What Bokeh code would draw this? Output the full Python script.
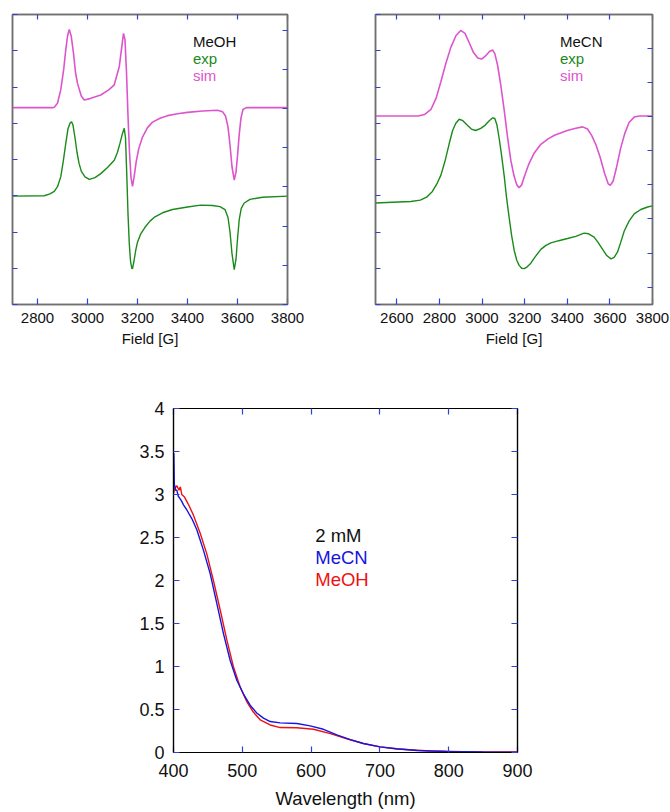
from bokeh.plotting import figure
from bokeh.models import Range1d, LinearAxis, FixedTicker, Label
from bokeh.layouts import column, row
from bokeh.embed import file_html
from bokeh.resources import INLINE

# ---------------- EPR, MeOH ----------------
meoh_sim_field = [2700, 2860, 2867, 2880, 2893, 2905, 2913, 2920, 2927, 2935, 2944, 2952, 2960, 2975, 2987,
                  3010, 3053, 3085, 3107, 3127, 3137, 3144, 3150, 3156, 3162, 3168, 3174, 3180, 3186, 3195,
                  3205, 3220, 3240, 3260, 3290, 3320, 3360, 3400, 3460, 3520, 3540, 3552, 3562, 3570, 3578,
                  3587, 3594, 3600, 3607, 3614, 3622, 3635, 3800]
meoh_sim_int = [5.43, 5.43, 5.44, 5.55, 5.92, 6.5, 7.02, 7.4, 7.59, 7.4, 6.93, 6.4, 6.1, 5.75, 5.64,
                5.68, 5.78, 5.92, 6.06, 6.56, 7.1, 7.48, 7.3, 6.4, 5.2, 4.2, 3.5, 3.26, 3.5, 3.95,
                4.3, 4.62, 4.88, 5.03, 5.14, 5.21, 5.26, 5.3, 5.34, 5.36, 5.32, 5.2, 4.9, 4.4, 3.8,
                3.43, 3.65, 4.1, 4.7, 5.15, 5.38, 5.43, 5.43]

meoh_exp_field = [2700, 2827, 2850, 2867, 2880, 2893, 2903, 2913, 2922, 2930, 2936, 2942, 2950, 2958, 2966,
                  2975, 2990, 3007, 3030, 3053, 3080, 3107, 3120, 3130, 3140, 3147, 3152, 3157, 3162, 3167,
                  3172, 3177, 3180, 3186, 3193, 3200, 3213, 3230, 3250, 3270, 3300, 3340, 3400, 3453, 3500,
                  3530, 3550, 3562, 3570, 3578, 3587, 3594, 3600, 3607, 3615, 3627, 3650, 3700, 3800]
meoh_exp_int = [2.99, 3.0, 3.05, 3.12, 3.25, 3.52, 3.95, 4.44, 4.85, 5.0, 5.04, 4.95, 4.6, 4.2, 3.9,
                3.68, 3.52, 3.45, 3.5, 3.61, 3.78, 3.98, 4.2, 4.45, 4.72, 4.86, 4.6, 3.6, 2.5, 1.7,
                1.2, 1.0, 0.99, 1.2, 1.5, 1.72, 1.95, 2.13, 2.3, 2.42, 2.53, 2.62, 2.69, 2.74, 2.73,
                2.7, 2.62, 2.4, 2.0, 1.4, 0.96, 1.25, 1.8, 2.35, 2.65, 2.8, 2.9, 2.96, 2.99]

# ---------------- EPR, MeCN ----------------
mecn_sim_field = [2500, 2700, 2730, 2760, 2785, 2807, 2830, 2854, 2878, 2900, 2920, 2940, 2960, 2980, 2998,
                  3015, 3035, 3049, 3060, 3073, 3088, 3104, 3120, 3135, 3150, 3163, 3174, 3186, 3200, 3220,
                  3245, 3276, 3310, 3340, 3400, 3440, 3472, 3495, 3515, 3535, 3555, 3575, 3592, 3602, 3615,
                  3630, 3650, 3670, 3690, 3714, 3740, 3800]
mecn_sim_int = [5.2, 5.2, 5.24, 5.38, 5.7, 6.15, 6.65, 7.1, 7.42, 7.56, 7.48, 7.22, 6.95, 6.8, 6.77,
                6.85, 6.98, 7.02, 6.92, 6.6, 6.05, 5.36, 4.6, 3.98, 3.55, 3.3, 3.22, 3.3, 3.55, 3.88,
                4.18, 4.42, 4.57, 4.67, 4.8, 4.86, 4.9, 4.84, 4.66, 4.4, 4.05, 3.62, 3.33, 3.29, 3.4,
                3.75, 4.3, 4.72, 5.02, 5.17, 5.2, 5.2]

mecn_exp_field = [2500, 2580, 2666, 2710, 2740, 2767, 2790, 2807, 2826, 2846, 2862, 2877, 2893, 2910, 2930,
                  2950, 2970, 2994, 3015, 3034, 3050, 3060, 3070, 3080, 3092, 3104, 3115, 3127, 3139, 3151,
                  3163, 3174, 3186, 3198, 3212, 3229, 3250, 3276, 3300, 3323, 3360, 3401, 3440, 3479, 3500,
                  3526, 3546, 3566, 3585, 3605, 3620, 3636, 3650, 3667, 3690, 3714, 3745, 3777, 3800]
mecn_exp_int = [2.8, 2.82, 2.84, 2.88, 2.96, 3.12, 3.35, 3.57, 3.95, 4.44, 4.8, 5.0, 5.11, 5.07, 4.95,
                4.84, 4.8, 4.86, 4.95, 5.07, 5.15, 5.13, 4.95, 4.6, 4.1, 3.55, 2.95, 2.41, 1.9, 1.49,
                1.22, 1.08, 1.0, 0.99, 1.04, 1.14, 1.32, 1.52, 1.63, 1.7, 1.76, 1.82, 1.88, 1.97, 1.95,
                1.86, 1.7, 1.52, 1.35, 1.26, 1.3, 1.45, 1.7, 2.02, 2.3, 2.5, 2.62, 2.69, 2.72]

# ---------------- UV-vis ----------------
mecn_wl = [400.0, 400.5, 401.2, 403, 404.8, 407, 409.7, 412, 414.5, 419.4, 426.6, 433.9, 443.6, 453.3, 463,
           472.7, 482.4, 492, 501.7, 511.4, 521, 530.8, 540.5, 555, 579.3, 598.6, 618, 637.4, 656.8, 676,
           700.4, 724.6, 753.7, 797, 850, 900]
mecn_abs = [3.1, 3.48, 3.12, 3.05, 3.05, 2.98, 2.95, 2.92, 2.88, 2.82, 2.72, 2.59, 2.35, 2.08, 1.73,
            1.38, 1.07, 0.84, 0.68, 0.55, 0.46, 0.40, 0.36, 0.345, 0.337, 0.31, 0.27, 0.205, 0.15, 0.105,
            0.066, 0.043, 0.023, 0.012, 0.006, 0.004]

meoh_wl = [400, 402, 405, 408, 410, 412, 416, 422, 429, 438.8, 448.4, 458, 467.8, 477.5, 487,
           497, 506.6, 516, 526, 540.5, 555, 579, 603.5, 628, 652, 676, 700, 725, 773, 820, 900]
meoh_abs = [3.01, 3.08, 3.1, 3.05, 3.09, 3.0, 2.97, 2.88, 2.76, 2.55, 2.31, 2.0, 1.66, 1.31, 1.0,
            0.76, 0.59, 0.47, 0.38, 0.32, 0.29, 0.287, 0.27, 0.22, 0.16, 0.105, 0.066, 0.04, 0.018, 0.01, 0.005]

epr_ticks_left = [2800, 3000, 3200, 3400, 3600, 3800]
epr_ticks_right = [2600, 2800, 3000, 3200, 3400, 3600, 3800]
uv_xticks = [400, 500, 600, 700, 800, 900]
uv_yticks = [0, 0.5, 1, 1.5, 2, 2.5, 3, 3.5, 4]

FONT = "Liberation Sans"
GREEN = "#1a8a1a"
PINK = "#dd55cc"
TICK = "#3340d8"
FRAME = "#707070"


def style_axis(ax, color, width, tick_len, font_size, labels=True, standoff=8):
    ax.axis_line_color = color
    ax.axis_line_width = width
    ax.major_tick_in = tick_len
    ax.major_tick_out = 0
    ax.major_tick_line_color = TICK
    ax.major_tick_line_width = 1.2
    ax.minor_tick_line_color = None
    ax.major_label_text_font = FONT
    ax.major_label_standoff = standoff
    if labels:
        ax.major_label_text_font_size = font_size
        ax.major_label_text_color = "#111111"
    else:
        ax.major_label_text_font_size = "1px"
        ax.major_label_text_color = None
        ax.major_label_standoff = 0


def epr_panel(xr, xticks, right_range, width, bl, br, sim_x, sim_y, exp_x, exp_y):
    p = figure(width=width, height=370, x_range=Range1d(*xr), y_range=Range1d(0, 8),
               output_backend="svg", toolbar_location=None,
               min_border_left=bl, min_border_right=br, min_border_top=14, min_border_bottom=66)
    p.grid.visible = False
    p.outline_line_color = FRAME
    p.outline_line_width = 1.5
    p.extra_y_ranges = {"r": Range1d(*right_range)}
    p.xaxis.ticker = FixedTicker(ticks=xticks)
    p.yaxis.ticker = FixedTicker(ticks=list(range(9)))
    style_axis(p.xaxis[0], FRAME, 1.5, 6, "15px", True, 8)
    style_axis(p.yaxis[0], FRAME, 1.5, 5, "15px", False)
    p.xaxis.axis_label = "Field [G]"
    p.xaxis.axis_label_text_font = FONT
    p.xaxis.axis_label_text_font_size = "15px"
    p.xaxis.axis_label_text_font_style = "normal"
    p.xaxis.axis_label_text_color = "#111111"
    p.xaxis.axis_label_standoff = 4
    ra = LinearAxis(y_range_name="r", ticker=FixedTicker(ticks=list(range(8))))
    style_axis(ra, FRAME, 1.5, 5, "15px", False)
    p.add_layout(ra, "right")
    ta = LinearAxis(ticker=FixedTicker(ticks=xticks))
    style_axis(ta, FRAME, 1.5, 5, "15px", False)
    p.add_layout(ta, "above")
    p.line(sim_x, sim_y, line_color=PINK, line_width=1.6)
    p.line(exp_x, exp_y, line_color=GREEN, line_width=1.4)
    return p


p1 = epr_panel((2700, 3800), epr_ticks_left, (0, 7.4), 330, 12, 43,
               meoh_sim_field, meoh_sim_int, meoh_exp_field, meoh_exp_int)
for txt, col, yy in [("MeOH", "#111111", 7.26), ("exp", GREEN, 6.79), ("sim", PINK, 6.32)]:
    p1.add_layout(Label(x=3422, y=yy, text=txt, text_color=col, text_font=FONT, text_font_size="15px",
                        text_baseline="middle", text_align="left"))

p2 = epr_panel((2500, 3800), epr_ticks_right, (-0.508, 7.986), 340, 45, 18,
               mecn_sim_field, mecn_sim_int, mecn_exp_field, mecn_exp_int)
for txt, col, yy in [("MeCN", "#111111", 7.26), ("exp", GREEN, 6.79), ("sim", PINK, 6.32)]:
    p2.add_layout(Label(x=3366, y=yy, text=txt, text_color=col, text_font=FONT, text_font_size="15px",
                        text_baseline="middle", text_align="left"))

# UV-vis panel
p3 = figure(width=670, height=442, x_range=Range1d(400, 900), y_range=Range1d(0, 4),
            output_backend="svg", toolbar_location=None,
            min_border_left=173, min_border_right=153, min_border_top=38, min_border_bottom=60)
p3.grid.visible = False
p3.outline_line_color = "black"
p3.outline_line_width = 1.2
p3.xaxis.ticker = FixedTicker(ticks=uv_xticks)
p3.yaxis.ticker = FixedTicker(ticks=uv_yticks)
style_axis(p3.xaxis[0], "black", 1.2, 6, "18px", True, 11)
style_axis(p3.yaxis[0], "black", 1.2, 6, "18px", True, 9)
p3.yaxis.major_label_overrides = {0: "0", 0.5: "0.5", 1: "1", 1.5: "1.5", 2: "2",
                                  2.5: "2.5", 3: "3", 3.5: "3.5", 4: "4"}
p3.xaxis.axis_label = "Wavelength (nm)"
p3.xaxis.axis_label_text_font = FONT
p3.xaxis.axis_label_text_font_size = "18.5px"
p3.xaxis.axis_label_text_font_style = "normal"
p3.xaxis.axis_label_text_color = "#111111"
p3.xaxis.axis_label_standoff = 8
ra3 = LinearAxis(ticker=FixedTicker(ticks=uv_yticks))
style_axis(ra3, "black", 1.2, 6, "18px", False)
p3.add_layout(ra3, "right")
ta3 = LinearAxis(ticker=FixedTicker(ticks=uv_xticks))
style_axis(ta3, "black", 1.2, 6, "18px", False)
p3.add_layout(ta3, "above")

p3.line(meoh_wl, meoh_abs, line_color="#ee1111", line_width=1.4)
p3.line(mecn_wl, mecn_abs, line_color="#1515e0", line_width=1.4)
for txt, col, yy in [("2 mM", "#111111", 2.52), ("MeCN", "#1515e0", 2.27), ("MeOH", "#ee1111", 2.01)]:
    p3.add_layout(Label(x=606, y=yy, text=txt, text_color=col, text_font=FONT, text_font_size="18.5px",
                        text_baseline="middle", text_align="left"))

layout = column(row(p1, p2, spacing=0), p3, spacing=0)
open("out.html", "w").write(file_html(layout, INLINE))
